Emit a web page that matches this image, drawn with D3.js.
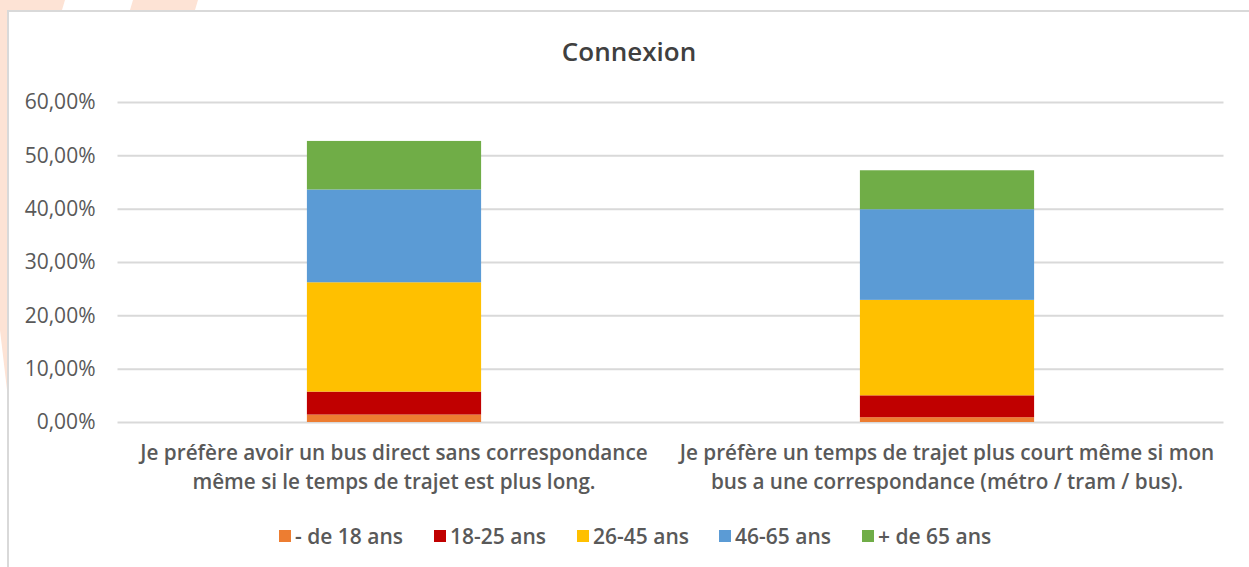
<!DOCTYPE html>
<html>
<head>
<meta charset="utf-8">
<script src="https://cdn.jsdelivr.net/npm/d3@7"></script>
<style>
  body { margin: 0; background: #fff; }
  text { font-family: "Open Sans", Lato, sans-serif; }
</style>
</head>
<body>
<svg id="chart" width="1249" height="567"></svg>
<script>
// chart data
var categories = [
  ["Je préfère avoir un bus direct sans correspondance", "même si le temps de trajet est plus long."],
  ["Je préfère un temps de trajet plus court même si mon", "bus a une correspondance (métro / tram / bus)."]
];
var seriesNames = ["- de 18 ans", "18-25 ans", "26-45 ans", "46-65 ans", "+ de 65 ans"];
var colors = ["#ed7d31", "#c00000", "#ffc000", "#5b9bd5", "#70ad47"];
var under18 = [1.4, 0.9];
var age18_25 = [4.3, 4.1];
var age26_45 = [20.5, 17.9];
var age46_65 = [17.4, 17.0];
var over65 = [9.1, 7.3];
var yTicks = [0, 10, 20, 30, 40, 50, 60];

var values = [under18, age18_25, age26_45, age46_65, over65];

var svg = d3.select("#chart");

// faint background stripes behind the chart frame
svg.append("path").attr("d", "M0,0 L65,0 L62,10 L7,10 L7,390 L0,330 Z").attr("fill", "#fde3d5");
svg.append("path").attr("d", "M133,0 L198,0 L195,10 L130,10 Z").attr("fill", "#fde3d5");

// frame
svg.append("path").attr("d", "M8,567 L8,11 L1249,11").attr("fill", "none").attr("stroke", "#d9d9d9").attr("stroke-width", 2);

var margin = {left: 117.5, right: 1223.5, top: 102, bottom: 422};

var x = d3.scaleBand()
  .domain(d3.range(categories.length))
  .range([margin.left, margin.right])
  .paddingInner(0.685)
  .paddingOuter(0.3425);

var y = d3.scaleLinear().domain([0, 60]).range([margin.bottom, margin.top]);

// title
svg.append("text")
  .attr("x", 629).attr("y", 61)
  .attr("text-anchor", "middle")
  .attr("font-size", 26).attr("font-weight", 600)
  .attr("fill", "#404040")
  .text("Connexion");

// grid
var yAxis = d3.axisLeft(y).tickValues(yTicks)
  .tickSize(-(margin.right - margin.left))
  .tickFormat(function(d) { return d3.format(".2f")(d).replace(".", ",") + "%"; });

var gy = svg.append("g").attr("transform", "translate(" + margin.left + ",0)").call(yAxis);
gy.select(".domain").remove();
gy.selectAll(".tick line").attr("stroke", "#d9d9d9").attr("stroke-width", 2);
gy.selectAll(".tick text")
  .attr("x", -22)
  .attr("font-size", 21).attr("fill", "#595959")
  .style("font-family", "'Open Sans', sans-serif");

// stacked bars
var table = categories.map(function(c, i) {
  var row = {idx: i};
  seriesNames.forEach(function(s, k) { row[s] = values[k][i]; });
  return row;
});
var stacked = d3.stack().keys(seriesNames)(table);

svg.append("g").selectAll("g")
  .data(stacked).enter().append("g")
  .attr("fill", function(d, k) { return colors[k]; })
  .selectAll("rect")
  .data(function(d) { return d; }).enter().append("rect")
  .attr("x", function(d) { return x(d.data.idx); })
  .attr("width", x.bandwidth())
  .attr("y", function(d) { return y(d[1]); })
  .attr("height", function(d) { return y(d[0]) - y(d[1]); });

// category labels
var cat = svg.append("g").selectAll("text")
  .data(categories).enter().append("text")
  .attr("text-anchor", "middle")
  .attr("font-size", 20.7).attr("font-weight", 600)
  .attr("fill", "#595959");
cat.each(function(lines, i) {
  var t = d3.select(this);
  lines.forEach(function(l, j) {
    t.append("tspan")
      .attr("x", x(i) + x.bandwidth() / 2)
      .attr("y", 460 + j * 29)
      .text(l);
  });
});

// legend
var legendX = [279, 434, 577, 719, 862];
var lg = svg.append("g").selectAll("g")
  .data(seriesNames).enter().append("g")
  .attr("transform", function(d, i) { return "translate(" + legendX[i] + ",530)"; });
lg.append("rect").attr("width", 12).attr("height", 12)
  .attr("fill", function(d, i) { return colors[i]; });
lg.append("text").attr("x", 16).attr("y", 13.5)
  .attr("font-size", 21).attr("font-weight", 600)
  .attr("fill", "#595959")
  .text(function(d) { return d; });
</script>
</body>
</html>
